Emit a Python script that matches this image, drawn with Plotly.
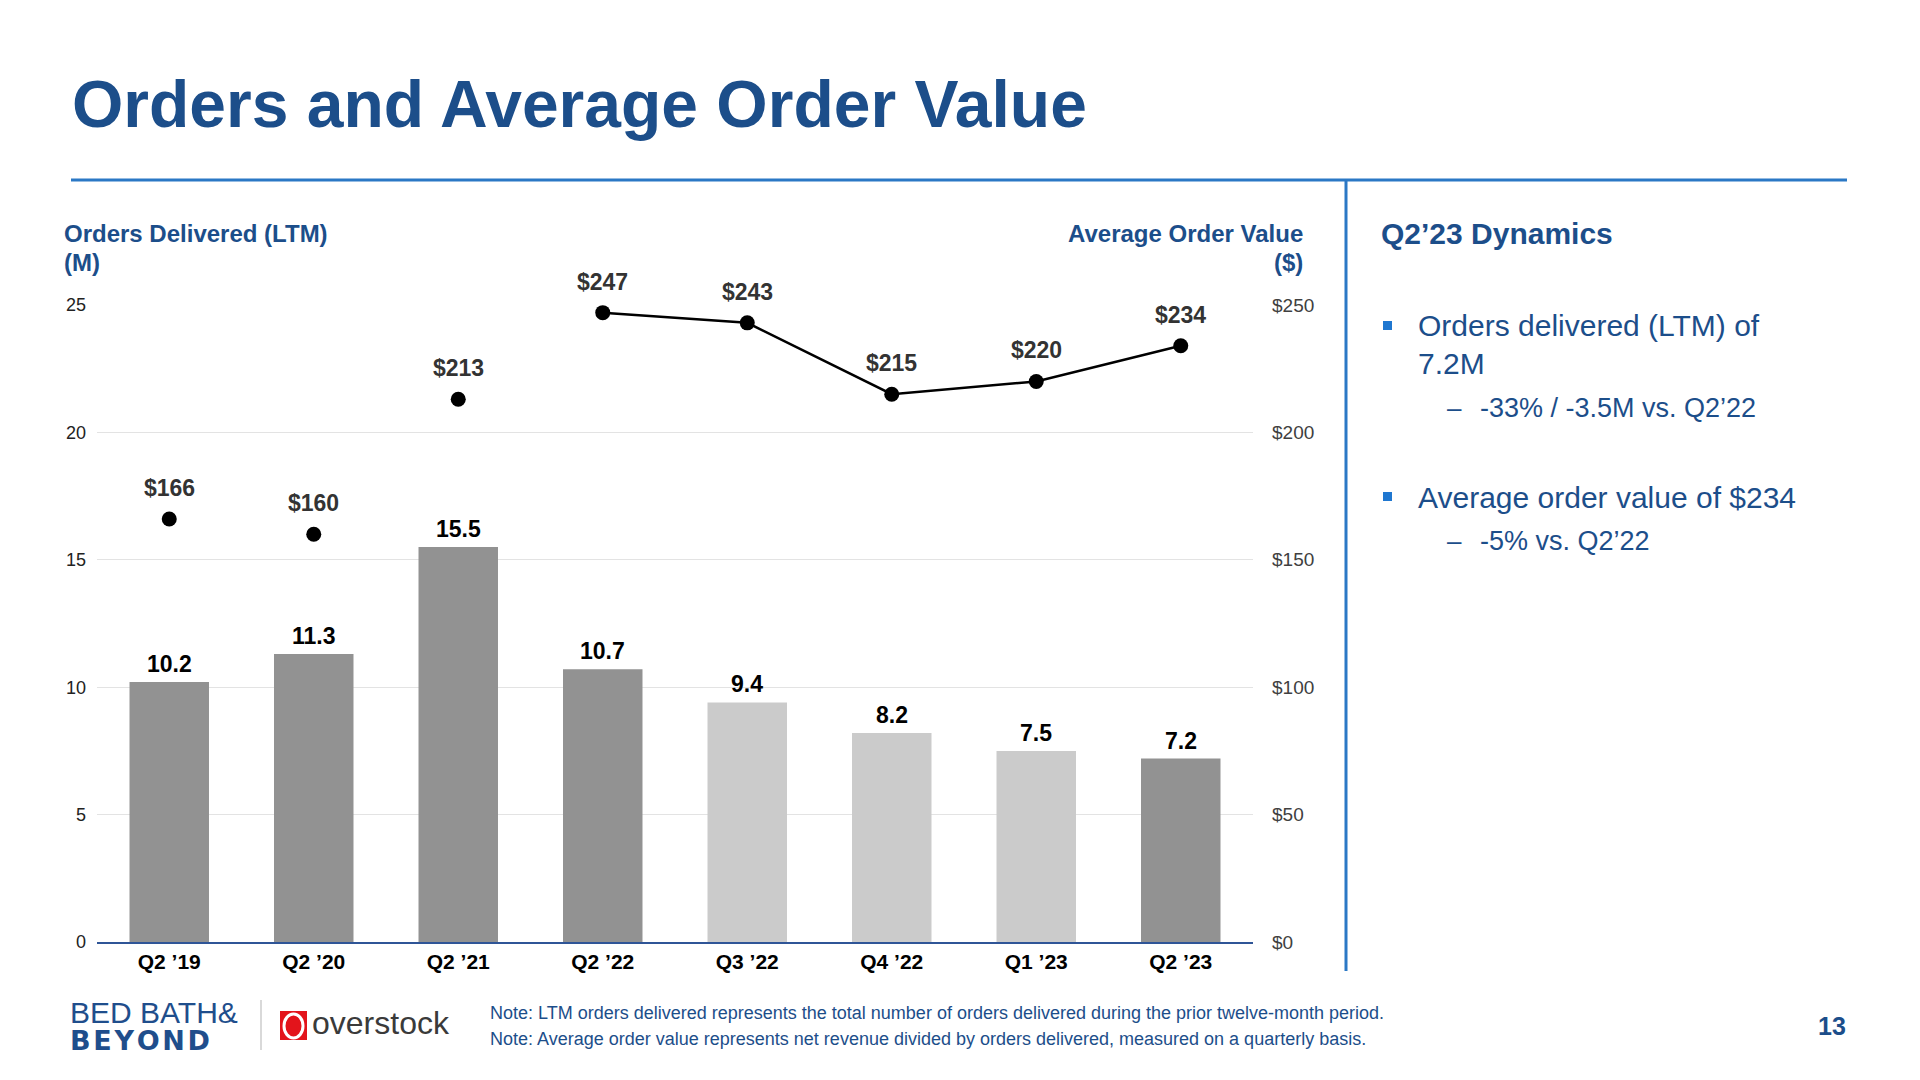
import plotly.graph_objects as go

# ---------------- data ----------------
categories = ["Q2 ’19", "Q2 ’20", "Q2 ’21", "Q2 ’22", "Q3 ’22", "Q4 ’22", "Q1 ’23", "Q2 ’23"]
orders_m = [10.2, 11.3, 15.5, 10.7, 9.4, 8.2, 7.5, 7.2]
avg_order_value = [166, 160, 213, 247, 243, 215, 220, 234]
left_ticks = [0, 5, 10, 15, 20, 25]
right_ticks = [0, 50, 100, 150, 200, 250]
right_tick_labels = ["$0", "$50", "$100", "$150", "$200", "$250"]
line_start = 3  # AOV points joined by a line from Q2 '22 onward

# ---------------- style ----------------
W, H = 1920, 1080
BLUE = "#1C4E8A"
RULE = "#2B78C5"
DARK_BAR = "#929292"
LIGHT_BAR = "#CBCBCB"
bar_colors = [DARK_BAR, DARK_BAR, DARK_BAR, DARK_BAR, LIGHT_BAR, LIGHT_BAR, LIGHT_BAR, DARK_BAR]
FONT = "Liberation Sans, Arial, Helvetica, sans-serif"


def px(x):
    return x / W


def py(y):
    return 1 - y / H


fig = go.Figure()

fig.add_trace(go.Bar(
    x=categories, y=orders_m, marker=dict(color=bar_colors, line=dict(width=0)),
    yaxis="y", showlegend=False, hoverinfo="x+y",
))
fig.add_trace(go.Scatter(
    x=categories[line_start:], y=avg_order_value[line_start:], mode="lines",
    line=dict(color="black", width=2.5), yaxis="y2", showlegend=False, hoverinfo="skip",
))
fig.add_trace(go.Scatter(
    x=categories, y=avg_order_value, mode="markers",
    marker=dict(color="black", size=15), yaxis="y2", showlegend=False, cliponaxis=False,
))

annotations = []
# bar value labels
for c, v in zip(categories, orders_m):
    annotations.append(dict(x=c, y=v, xref="x", yref="y", text=f"<b>{v:.1f}</b>",
                            showarrow=False, yanchor="middle", yshift=18,
                            font=dict(family=FONT, size=23, color="black")))
# AOV labels
for c, v in zip(categories, avg_order_value):
    annotations.append(dict(x=c, y=v, xref="x", yref="y2", text=f"<b>${v}</b>",
                            showarrow=False, yanchor="middle", yshift=31,
                            font=dict(family=FONT, size=23, color="#333333")))


def txt(x, y, text, size, color=BLUE, bold=False, xanchor="left", family=FONT):
    t = f"<b>{text}</b>" if bold else text
    annotations.append(dict(x=px(x), y=py(y), xref="paper", yref="paper", text=t,
                            showarrow=False, xanchor=xanchor, yanchor="middle",
                            font=dict(family=family, size=size, color=color)))


# title
txt(70, 104, "Orders and Average Order Value", 66, bold=True)
# axis titles
txt(62, 233, "Orders Delivered (LTM)", 24, bold=True)
txt(62, 262, "(M)", 24, bold=True)
txt(1305, 233, "Average Order Value", 24, bold=True, xanchor="right")
txt(1305, 262, "($)", 24, bold=True, xanchor="right")

# right panel
txt(1379, 233, "Q2’23 Dynamics", 30, bold=True)
txt(1416, 326, "Orders delivered (LTM) of", 30)
txt(1416, 363, "7.2M", 30)
txt(1445, 408, "–", 26)
txt(1478, 408, "-33% / -3.5M vs. Q2’22", 27)
txt(1416, 497, "Average order value of $234", 30)
txt(1445, 541, "–", 26)
txt(1478, 541, "-5% vs. Q2’22", 27)

# footer notes
txt(488, 1013, "Note: LTM orders delivered represents the total number of orders delivered during the prior twelve-month period.", 18)
txt(488, 1039, "Note: Average order value represents net revenue divided by orders delivered, measured on a quarterly basis.", 18)
txt(1848, 1026, "13", 25, bold=True, xanchor="right")

# logos (text approximations), one two-line text block
annotations.append(dict(
    x=px(68), y=py(1026), xref="paper", yref="paper", showarrow=False,
    xanchor="left", yanchor="middle", align="left",
    text=("<span style='font-size:30px'>BED BATH&amp;</span><br>"
          "<span style='font-size:27px;font-family:DejaVu Sans'><b>B\u200aE\u200aY\u200aO\u200aN\u200aD</b></span>"),
    font=dict(family=FONT, size=21, color="#1F4E8C"),
))
txt(310, 1023, "overstock", 32, color="#3A3A3A")

shapes = []
# title rule
shapes.append(dict(type="line", xref="paper", yref="paper", x0=px(71), x1=px(1847), y0=py(180), y1=py(180),
                   line=dict(color=RULE, width=3)))
# vertical divider
shapes.append(dict(type="line", xref="paper", yref="paper", x0=px(1346), x1=px(1346), y0=py(181), y1=py(971),
                   line=dict(color=RULE, width=3)))
# bullets
for yb in (326, 497):
    shapes.append(dict(type="rect", xref="paper", yref="paper", x0=px(1383), x1=px(1392), y0=py(yb - 5), y1=py(yb + 4),
                       fillcolor="#1F77D0", line=dict(width=0)))
# logo separator
shapes.append(dict(type="line", xref="paper", yref="paper", x0=px(261), x1=px(261), y0=py(1000), y1=py(1050),
                   line=dict(color="#CCCCCC", width=1.5)))
# overstock red square with white ring
shapes.append(dict(type="rect", xref="paper", yref="paper", x0=px(280), x1=px(307), y0=py(1040), y1=py(1011),
                   fillcolor="#E3141B", line=dict(width=0)))
shapes.append(dict(type="circle", xref="paper", yref="paper", x0=px(284), x1=px(303), y0=py(1038), y1=py(1014),
                   fillcolor="rgba(0,0,0,0)", line=dict(color="white", width=3)))

fig.update_layout(
    width=W, height=H,
    margin=dict(l=0, r=0, t=0, b=0),
    paper_bgcolor="white", plot_bgcolor="white",
    bargap=0.45,
    font=dict(family=FONT),
    xaxis=dict(domain=[px(97), px(1253)], showline=True, linecolor="#2F5597", linewidth=1.5,
               tickfont=dict(family=FONT, size=21, color="black", weight="bold"),
               showgrid=False, ticks="", automargin=False, fixedrange=True),
    yaxis=dict(domain=[py(942), py(305)], range=[0, 25], tickvals=left_ticks,
               showgrid=True, gridcolor="#E3E3E3", gridwidth=1, zeroline=False,
               tickfont=dict(family=FONT, size=18, color="#222222"), ticklabelstandoff=10,
               automargin=False, fixedrange=True),
    yaxis2=dict(overlaying="y", side="right", range=[0, 250], tickvals=right_ticks, ticktext=right_tick_labels,
                showgrid=False, zeroline=False, tickfont=dict(family=FONT, size=19, color="#404040"),
                ticklabelstandoff=18, automargin=False, fixedrange=True),
    annotations=annotations,
    shapes=shapes,
)

fig.write_html("out.html", config={"displayModeBar": False},
               post_script="document.body.style.margin='0';document.body.style.overflow='hidden';")
